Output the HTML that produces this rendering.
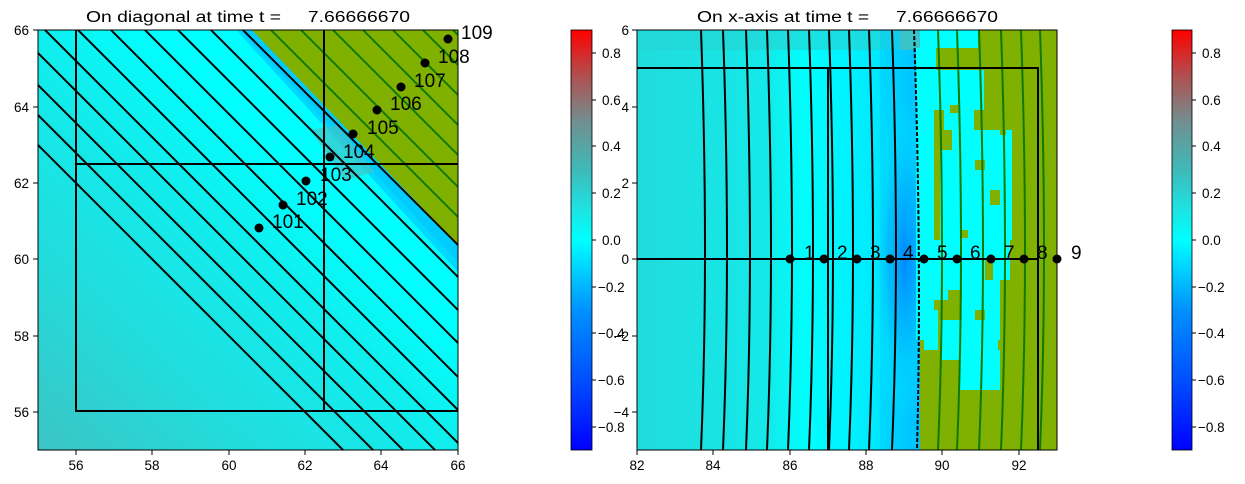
<!DOCTYPE html>
<html><head><meta charset="utf-8"><style>
html,body{margin:0;padding:0;background:#fff;overflow:hidden;width:1245px;height:484px;}
svg{display:block;font-family:"Liberation Sans",sans-serif;}
</style></head><body>
<svg width="1245" height="484" viewBox="0 0 1245 484" xmlns="http://www.w3.org/2000/svg">
<defs>
<linearGradient id="cb" x1="0" y1="1" x2="0" y2="0">
<stop offset="0" stop-color="#0000ff"/>
<stop offset="0.17" stop-color="#0050ff"/>
<stop offset="0.33" stop-color="#0090ff"/>
<stop offset="0.5" stop-color="#00ffff"/>
<stop offset="0.58" stop-color="#20e0e0"/>
<stop offset="0.67" stop-color="#40b8b8"/>
<stop offset="0.78" stop-color="#709090"/>
<stop offset="0.89" stop-color="#b05050"/>
<stop offset="1" stop-color="#ff0000"/>
</linearGradient>
<linearGradient id="lbg" gradientUnits="userSpaceOnUse" x1="38" y1="450" x2="330" y2="150">
<stop offset="0" stop-color="#3cc4c4"/>
<stop offset="0.35" stop-color="#22dcdc"/>
<stop offset="0.7" stop-color="#10eeee"/>
<stop offset="0.9" stop-color="#00ffff"/>
<stop offset="1" stop-color="#00ffff"/>
</linearGradient>
<linearGradient id="rbg" gradientUnits="userSpaceOnUse" x1="637" y1="0" x2="920" y2="0">
<stop offset="0" stop-color="#22dcdc"/>
<stop offset="0.45" stop-color="#14e8e8"/>
<stop offset="0.6" stop-color="#00ffff"/>
<stop offset="0.85" stop-color="#00e8ff"/>
<stop offset="1" stop-color="#00c0ff"/>
</linearGradient>
<radialGradient id="blue" gradientUnits="userSpaceOnUse" cx="905" cy="259" r="160" gradientTransform="translate(905 259) scale(0.22 1) translate(-905 -259)">
<stop offset="0" stop-color="#0088ff"/>
<stop offset="0.5" stop-color="#00b8ff" stop-opacity="0.7"/>
<stop offset="1" stop-color="#00ffff" stop-opacity="0"/>
</radialGradient>
<clipPath id="lc"><rect x="38" y="30" width="420" height="420"/></clipPath>
<clipPath id="rc"><rect x="637" y="30" width="420" height="420"/></clipPath>
</defs>

<!-- LEFT PLOT -->
<text x="86" y="22" font-size="15.5" textLength="324" lengthAdjust="spacingAndGlyphs" xml:space="preserve">On diagonal at time t =     7.66666670</text>
<g clip-path="url(#lc)">
<rect x="38" y="30" width="420" height="420" fill="url(#lbg)"/>
<polygon points="236,30 252,30 458,245 458,272" fill="#00d8ff"/>
<polygon points="240,30 252,30 458,245 458,262" fill="#00c0ff" opacity="0.5"/>
<polygon points="310,130 338,125 375,172 345,180" fill="#40c4c8" opacity="0.7"/>
<polygon points="252,30 458,30 458,245" fill="#80b000"/>
<g stroke="#000" stroke-width="2">
<line x1="0" y1="107" x2="500" y2="607"/>
<line x1="0" y1="77" x2="500" y2="577"/>
<line x1="0" y1="47" x2="500" y2="547"/>
<line x1="0" y1="15" x2="500" y2="515"/>
<line x1="0" y1="-15" x2="500" y2="485"/>
<line x1="0" y1="-48" x2="500" y2="452"/>
<line x1="0" y1="-81" x2="500" y2="419"/>
<line x1="0" y1="-115" x2="500" y2="385"/>
<line x1="0" y1="-148" x2="500" y2="352"/>
<line x1="0" y1="-181" x2="500" y2="319"/>
<line x1="0" y1="-213" x2="500" y2="287"/>
</g>
<g stroke="#107a00" stroke-width="2">
<line x1="0" y1="-241" x2="500" y2="259"/>
<line x1="0" y1="-271" x2="500" y2="229"/>
<line x1="0" y1="-303" x2="500" y2="197"/>
<line x1="0" y1="-333" x2="500" y2="167"/>
<line x1="0" y1="-363" x2="500" y2="137"/>
<line x1="0" y1="-393" x2="500" y2="107"/>
<line x1="0" y1="-423" x2="500" y2="77"/>
</g>
<g stroke="#000" stroke-width="2" fill="none">
<polyline points="76,30 76,411 458,411"/>
<line x1="76" y1="164" x2="458" y2="164"/>
<line x1="324" y1="30" x2="324" y2="411"/>
</g>
</g>
<g fill="#000">
<circle cx="259" cy="228" r="4.5"/><circle cx="283" cy="205" r="4.5"/><circle cx="306" cy="181" r="4.5"/>
<circle cx="330" cy="157" r="4.5"/><circle cx="353" cy="134" r="4.5"/><circle cx="377" cy="110" r="4.5"/>
<circle cx="401" cy="87" r="4.5"/><circle cx="425" cy="63" r="4.5"/><circle cx="448" cy="39" r="4.5"/>
</g>
<g font-size="19" fill="#000">
<text x="272" y="228">101</text><text x="296" y="205">102</text><text x="320" y="181">103</text>
<text x="343" y="158">104</text><text x="367" y="134">105</text><text x="390" y="110">106</text>
<text x="414" y="87">107</text><text x="438" y="63">108</text><text x="461" y="39">109</text>
</g>
<rect x="38" y="30" width="420" height="420" fill="none" stroke="#000" stroke-width="1"/>
<g stroke="#000" stroke-width="1">
<line x1="76" y1="450" x2="76" y2="455"/><line x1="152" y1="450" x2="152" y2="455"/><line x1="229" y1="450" x2="229" y2="455"/>
<line x1="305" y1="450" x2="305" y2="455"/><line x1="381" y1="450" x2="381" y2="455"/><line x1="458" y1="450" x2="458" y2="455"/>
<line x1="33" y1="30" x2="38" y2="30"/><line x1="33" y1="107" x2="38" y2="107"/><line x1="33" y1="183" x2="38" y2="183"/>
<line x1="33" y1="259" x2="38" y2="259"/><line x1="33" y1="336" x2="38" y2="336"/><line x1="33" y1="412" x2="38" y2="412"/>
</g>
<g font-size="13.5" text-anchor="middle">
<text x="76" y="470">56</text><text x="152" y="470">58</text><text x="229" y="470">60</text>
<text x="305" y="470">62</text><text x="381" y="470">64</text><text x="458" y="470">66</text>
</g>
<g font-size="13.5" text-anchor="end">
<text x="29" y="35">66</text><text x="29" y="112">64</text><text x="29" y="188">62</text>
<text x="29" y="264">60</text><text x="29" y="341">58</text><text x="29" y="417">56</text>
</g>

<!-- COLORBAR 1 -->
<rect x="571" y="30" width="21" height="420" fill="url(#cb)" stroke="#000" stroke-width="0.8"/>
<g stroke="#000" stroke-width="1">
<line x1="592" y1="53" x2="596" y2="53"/><line x1="592" y1="100" x2="596" y2="100"/><line x1="592" y1="146" x2="596" y2="146"/>
<line x1="592" y1="193" x2="596" y2="193"/><line x1="592" y1="240" x2="596" y2="240"/><line x1="592" y1="287" x2="596" y2="287"/>
<line x1="592" y1="333" x2="596" y2="333"/><line x1="592" y1="380" x2="596" y2="380"/><line x1="592" y1="427" x2="596" y2="427"/>
</g>
<g font-size="13.5">
<text x="602" y="58">0.8</text><text x="602" y="105">0.6</text><text x="602" y="151">0.4</text>
<text x="602" y="198">0.2</text><text x="602" y="245">0.0</text><text x="598" y="292">−0.2</text>
<text x="598" y="338">−0.4</text><text x="598" y="385">−0.6</text><text x="598" y="432">−0.8</text>
</g>

<!-- RIGHT PLOT -->
<text x="697" y="22" font-size="15.5" textLength="301" lengthAdjust="spacingAndGlyphs" xml:space="preserve">On x-axis at time t =     7.66666670</text>
<g clip-path="url(#rc)">
<rect x="637" y="30" width="420" height="420" fill="url(#rbg)"/>
<rect x="637" y="30" width="283" height="20" fill="#24d6d6" opacity="0.7"/>
<rect x="880" y="30" width="40" height="420" fill="#00c0ff" opacity="0.3"/>
<rect x="860" y="30" width="60" height="420" fill="url(#blue)"/>
<rect x="900" y="30" width="20" height="20" fill="#38c4c8"/>
<rect x="920" y="30" width="137" height="420" fill="#80b000"/>
<g fill="#00ffff">
<rect x="920" y="30" width="58" height="18"/>
<rect x="916" y="48" width="20" height="40"/>
<rect x="916" y="70" width="18" height="270"/>
<rect x="934" y="70" width="50" height="40"/>
<rect x="944" y="110" width="30" height="20"/>
<rect x="952" y="130" width="60" height="60"/>
<rect x="940" y="150" width="20" height="120"/>
<rect x="960" y="190" width="50" height="90"/>
<rect x="930" y="240" width="30" height="60"/>
<rect x="960" y="280" width="40" height="40"/>
<rect x="940" y="320" width="60" height="40"/>
<rect x="960" y="360" width="40" height="30"/>
<rect x="1004" y="140" width="8" height="100"/>
<rect x="924" y="310" width="14" height="40"/>
</g>
<g fill="#80b000">
<rect x="950" y="105" width="8" height="8"/><rect x="975" y="160" width="10" height="10"/>
<rect x="990" y="190" width="10" height="15"/><rect x="960" y="230" width="8" height="8"/>
<rect x="985" y="260" width="8" height="20"/><rect x="948" y="290" width="14" height="10"/>
<rect x="975" y="310" width="10" height="10"/><rect x="998" y="340" width="6" height="10"/>
<rect x="1000" y="120" width="6" height="15"/><rect x="940" y="140" width="6" height="10"/>
</g>
<g stroke="#000" stroke-width="2" fill="none">
<path d="M701,30 Q709,259 701,450"/><path d="M723,30 Q731,259 723,450"/>
<path d="M746,30 Q754,259 746,450"/><path d="M767,30 Q775,259 767,450"/>
<path d="M788,30 Q796,259 788,450"/><path d="M809,30 Q817,259 809,450"/>
<path d="M829,30 Q837,259 829,450"/><path d="M849,30 Q857,259 849,450"/>
<path d="M869,30 Q877,259 869,450"/><path d="M892,30 Q900,259 892,450"/>
</g>
<path d="M914,30 Q922,259 917,450" stroke="#000" stroke-width="2" fill="none" stroke-dasharray="4,2"/>
<g stroke="#107a00" stroke-width="2" fill="none">
<path d="M938,30 Q946,259 938,450"/><path d="M957,30 Q965,259 957,450"/>
<path d="M979,30 Q987,259 979,450"/><path d="M1001,30 Q1009,259 1001,450"/>
<path d="M1021,30 Q1029,259 1021,450"/><path d="M1040,30 Q1048,259 1040,450"/>
</g>
<g stroke="#000" stroke-width="2" fill="none">
<polyline points="637,68 1038,68 1038,450"/>
<line x1="828" y1="68" x2="828" y2="450"/>
<line x1="637" y1="259" x2="1038" y2="259"/>
</g>
</g>
<g fill="#000">
<circle cx="790" cy="259" r="4.5"/><circle cx="824" cy="259" r="4.5"/><circle cx="857" cy="259" r="4.5"/>
<circle cx="890" cy="259" r="4.5"/><circle cx="924" cy="259" r="4.5"/><circle cx="957" cy="259" r="4.5"/>
<circle cx="991" cy="259" r="4.5"/><circle cx="1024" cy="259" r="4.5"/><circle cx="1057" cy="259" r="4.5"/>
</g>
<g font-size="19" fill="#000">
<text x="804" y="259">1</text><text x="837" y="259">2</text><text x="870" y="259">3</text>
<text x="903" y="259">4</text><text x="937" y="259">5</text><text x="970" y="259">6</text>
<text x="1004" y="259">7</text><text x="1037" y="259">8</text><text x="1071" y="259">9</text>
</g>
<rect x="637" y="30" width="420" height="420" fill="none" stroke="#000" stroke-width="1"/>
<g stroke="#000" stroke-width="1">
<line x1="637" y1="450" x2="637" y2="455"/><line x1="713" y1="450" x2="713" y2="455"/><line x1="790" y1="450" x2="790" y2="455"/>
<line x1="866" y1="450" x2="866" y2="455"/><line x1="942" y1="450" x2="942" y2="455"/><line x1="1019" y1="450" x2="1019" y2="455"/>
<line x1="632" y1="30" x2="637" y2="30"/><line x1="632" y1="107" x2="637" y2="107"/><line x1="632" y1="183" x2="637" y2="183"/>
<line x1="632" y1="259" x2="637" y2="259"/><line x1="632" y1="336" x2="637" y2="336"/><line x1="632" y1="412" x2="637" y2="412"/>
</g>
<g font-size="13.5" text-anchor="middle">
<text x="637" y="470">82</text><text x="713" y="470">84</text><text x="790" y="470">86</text>
<text x="866" y="470">88</text><text x="942" y="470">90</text><text x="1019" y="470">92</text>
</g>
<g font-size="13.5" text-anchor="end">
<text x="629" y="35">6</text><text x="629" y="112">4</text><text x="629" y="188">2</text>
<text x="629" y="264">0</text><text x="629" y="341">−2</text><text x="629" y="417">−4</text>
</g>

<!-- COLORBAR 2 -->
<rect x="1172" y="30" width="20" height="420" fill="url(#cb)" stroke="#000" stroke-width="0.8"/>
<g stroke="#000" stroke-width="1">
<line x1="1192" y1="53" x2="1196" y2="53"/><line x1="1192" y1="100" x2="1196" y2="100"/><line x1="1192" y1="146" x2="1196" y2="146"/>
<line x1="1192" y1="193" x2="1196" y2="193"/><line x1="1192" y1="240" x2="1196" y2="240"/><line x1="1192" y1="287" x2="1196" y2="287"/>
<line x1="1192" y1="333" x2="1196" y2="333"/><line x1="1192" y1="380" x2="1196" y2="380"/><line x1="1192" y1="427" x2="1196" y2="427"/>
</g>
<g font-size="13.5">
<text x="1202" y="58">0.8</text><text x="1202" y="105">0.6</text><text x="1202" y="151">0.4</text>
<text x="1202" y="198">0.2</text><text x="1202" y="245">0.0</text><text x="1198" y="292">−0.2</text>
<text x="1198" y="338">−0.4</text><text x="1198" y="385">−0.6</text><text x="1198" y="432">−0.8</text>
</g>
</svg>
</body></html>
